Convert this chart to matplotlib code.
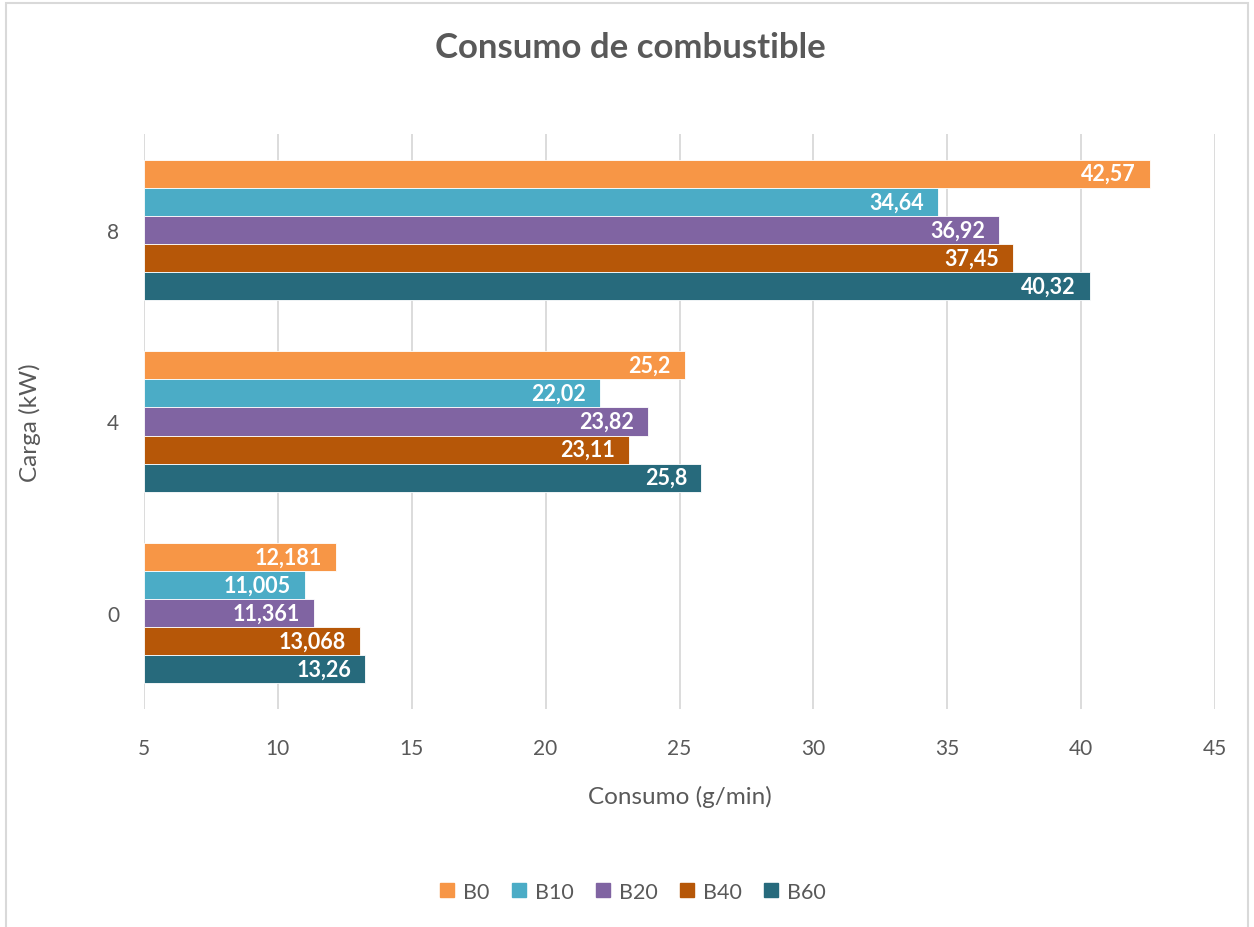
import matplotlib
matplotlib.use("Agg")
import matplotlib.pyplot as plt
import numpy as np
from matplotlib.patches import Rectangle
from matplotlib.lines import Line2D

plt.rcParams['font.family'] = ['Lato', 'DejaVu Sans']

cargas = ["0", "4", "8"]
series = ["B0", "B10", "B20", "B40", "B60"]
b0 = [12.181, 25.2, 42.57]
b10 = [11.005, 22.02, 34.64]
b20 = [11.361, 23.82, 36.92]
b40 = [13.068, 23.11, 37.45]
b60 = [13.26, 25.8, 40.32]
etiquetas = {
    "B0": ["12,181", "25,2", "42,57"],
    "B10": ["11,005", "22,02", "34,64"],
    "B20": ["11,361", "23,82", "36,92"],
    "B40": ["13,068", "23,11", "37,45"],
    "B60": ["13,26", "25,8", "40,32"],
}
colores = ["#F79646", "#4BACC6", "#8064A2", "#B65708", "#276A7C"]
x_min, x_max = 5, 45
x_ticks = [5, 10, 15, 20, 25, 30, 35, 40, 45]

valores = [b0, b10, b20, b40, b60]
texto = "#595959"

fig = plt.figure(figsize=(12.54, 9.28), dpi=100)
ax = fig.add_axes([144 / 1254, 1 - 710 / 928, (1215 - 144) / 1254, (710 - 135) / 928])

y = np.arange(len(cargas))
grupo = 0.733
h = grupo / len(series)
for i, (nombre, vals, col) in enumerate(zip(series, valores, colores)):
    pos = y + (2 - i) * h
    anchos = [v - x_min for v in vals]
    ax.barh(pos, anchos, left=x_min, height=h, color=col,
            edgecolor="white", linewidth=0.6, zorder=3)
    for p, v, t in zip(pos, vals, etiquetas[nombre]):
        ax.annotate(t, xy=(v, p), xytext=(-10, 0), textcoords="offset points",
                    ha="right", va="center", color="white",
                    fontsize=15.5, fontweight="bold", zorder=4)

ax.set_xlim(x_min, x_max)
ax.set_ylim(-0.5, len(cargas) - 0.5)
ax.set_xticks(x_ticks)
ax.set_yticks(y)
ax.set_yticklabels(cargas)
ax.grid(axis="x", color="#D9D9D9", linewidth=1.3, zorder=0)
ax.set_axisbelow(True)
for s in ax.spines.values():
    s.set_visible(False)
ax.tick_params(axis="both", length=0, labelsize=15, labelcolor=texto)
ax.tick_params(axis="x", pad=21)
ax.tick_params(axis="y", pad=18)

ax.set_xlabel("Consumo (g/min)", fontsize=17.5, color=texto)
ax.set_ylabel("Carga (kW)", fontsize=17.5, color=texto)
ax.xaxis.set_label_coords(0.5, -(797 - 710) / 575)
ax.yaxis.set_label_coords(-(144 - 30) / 1071, 0.5)
ax.xaxis.label.set_va("center")
ax.yaxis.label.set_va("center")

fig.text(630 / 1254, 1 - 48 / 928, "Consumo de combustible", ha="center", va="center",
         fontsize=25, fontweight="bold", color=texto)

handles = [Line2D([], [], marker="s", linestyle="none", markersize=10,
                  markerfacecolor=c, markeredgecolor=c) for c in colores]
fig.legend(handles, series, loc="center", bbox_to_anchor=(631 / 1254, 1 - 893 / 928),
           ncol=5, frameon=False, fontsize=15.5, labelcolor=texto,
           handletextpad=0.25, columnspacing=0.85, handlelength=1.0)

fig.patches.append(Rectangle((6 / 1254, -0.01), (1248 - 6) / 1254, 1 - 4 / 928 + 0.01,
                             transform=fig.transFigure, fill=False,
                             edgecolor="#D9D9D9", linewidth=1.5))

fig.savefig("out.png", dpi=100, facecolor="white")
